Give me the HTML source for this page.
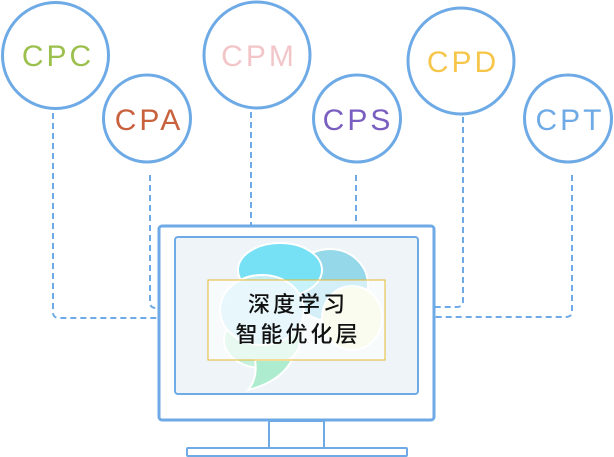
<!DOCTYPE html>
<html><head><meta charset="utf-8"><style>
html,body{margin:0;padding:0;background:#fff;width:614px;height:457px;overflow:hidden}
</style></head><body>
<svg width="614" height="457" viewBox="0 0 614 457" xmlns="http://www.w3.org/2000/svg">
<g fill="none" stroke="#6eaae6" stroke-width="2" stroke-dasharray="6,4">
<path d="M53 113 V312 Q53 318 59 318 H158"/>
<path d="M150 175 V302 Q150 308 156 308 H158"/>
<path d="M251 112 V225"/>
<path d="M356 175 V225"/>
<path d="M463 117 V301 Q463 307 457 307 H435"/>
<path d="M572 175 V311 Q572 317 566 317 H435"/>
</g>
<g fill="#fff" stroke="#6eaae6" stroke-width="3">
<circle cx="55.5" cy="55.5" r="53"/>
<circle cx="147" cy="118.5" r="43.5"/>
<circle cx="257" cy="55" r="53"/>
<circle cx="357" cy="118.5" r="43.5"/>
<circle cx="461" cy="61" r="53"/>
<circle cx="568" cy="118.5" r="43.5"/>
</g>
<g font-family="Liberation Sans, sans-serif" font-size="30" text-anchor="middle" letter-spacing="3">
<text x="58" y="66" fill="#9cc04e">CPC</text>
<text x="149" y="130" fill="#c8623e">CPA</text>
<text x="259" y="66" fill="#f2c6c8">CPM</text>
<text x="358" y="130" fill="#7a5fc0">CPS</text>
<text x="463" y="72" fill="#f6c64a">CPD</text>
<text x="570" y="130" fill="#6eaae6">CPT</text>
</g>
<rect x="159" y="226" width="275" height="194" rx="3" fill="#fff" stroke="#6eaae6" stroke-width="3"/>
<rect x="175" y="237" width="243" height="157" rx="3" fill="#eef4f7" stroke="#6eaae6" stroke-width="2"/>
<rect x="269" y="421" width="55" height="27" fill="#fff" stroke="#6eaae6" stroke-width="2"/>
<rect x="187" y="448" width="220" height="8" rx="1" fill="#fff" stroke="#6eaae6" stroke-width="2"/>
<g stroke="#fff" stroke-width="2">
<ellipse cx="330" cy="285" rx="38" ry="36" fill="#95d8ea"/>
<ellipse cx="280" cy="270" rx="42" ry="27" fill="#76e0f4"/>
<ellipse cx="352" cy="318" rx="30" ry="32" fill="#eff7d6"/>
<ellipse cx="262" cy="340" rx="38" ry="28" fill="#c6f0de"/>
<ellipse cx="262" cy="310" rx="42" ry="35" fill="#c6ecf4"/>
<path d="M255 360 Q258 378 248 390 Q280 382 292 360 Z" fill="#aeecd0"/>
</g>
<rect x="208" y="280" width="177" height="80" fill="#fff" fill-opacity="0.6" stroke="#e6b830" stroke-width="1"/>
<g font-family="Liberation Sans, 'Noto Sans CJK SC', sans-serif" font-size="22" font-weight="500" fill="#111" text-anchor="middle" letter-spacing="3">
<text x="298" y="312">深度学习</text>
<text x="298" y="342">智能优化层</text>
</g>
</svg>
</body></html>
